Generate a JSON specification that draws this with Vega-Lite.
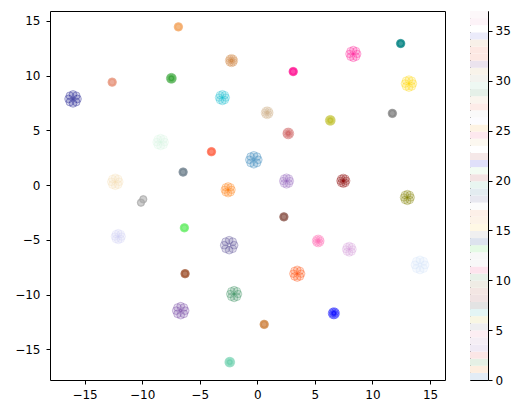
{
"$schema": "https://vega.github.io/schema/vega-lite/v6.json",
"padding": {"left": 14, "top": 10, "right": 5, "bottom": 5},
"spacing": 23,
"config": {
  "font": "DejaVu Sans",
  "view": {"stroke": "black", "strokeWidth": 1},
  "axis": {"domain": false, "grid": false, "labelFont": "DejaVu Sans", "labelFontSize": 12, "labelColor": "black", "tickColor": "black", "tickSize": 4, "labelPadding": 5, "title": null}
},
"resolve": {"scale": {"color": "independent"}},
"hconcat": [
{
  "width": 395, "height": 369,
  "data": {"values": [
{"x":-15.609,"y":7.87,"k":1,"t":"c"},{"x":-15.723,"y":8.161,"k":1,"t":"c"},{"x":-16.0,"y":8.282,"k":1,"t":"c"},{"x":-16.277,"y":8.161,"k":1,"t":"c"},{"x":-16.391,"y":7.87,"k":1,"t":"c"},{"x":-16.277,"y":7.579,"k":1,"t":"c"},{"x":-16.0,"y":7.458,"k":1,"t":"c"},{"x":-15.723,"y":7.579,"k":1,"t":"c"},
{"x":-12.53,"y":9.4,"k":2,"t":"a"},{"x":-12.551,"y":9.452,"k":2,"t":"a"},{"x":-12.6,"y":9.473,"k":2,"t":"a"},{"x":-12.649,"y":9.452,"k":2,"t":"a"},{"x":-12.67,"y":9.4,"k":2,"t":"a"},{"x":-12.649,"y":9.348,"k":2,"t":"a"},{"x":-12.6,"y":9.327,"k":2,"t":"a"},{"x":-12.551,"y":9.348,"k":2,"t":"a"},
{"x":-6.78,"y":14.45,"k":3,"t":"a"},{"x":-6.801,"y":14.502,"k":3,"t":"a"},{"x":-6.85,"y":14.523,"k":3,"t":"a"},{"x":-6.899,"y":14.502,"k":3,"t":"a"},{"x":-6.92,"y":14.45,"k":3,"t":"a"},{"x":-6.899,"y":14.398,"k":3,"t":"a"},{"x":-6.85,"y":14.377,"k":3,"t":"a"},{"x":-6.801,"y":14.398,"k":3,"t":"a"},
{"x":-7.33,"y":9.75,"k":4,"t":"a"},{"x":-7.368,"y":9.847,"k":4,"t":"a"},{"x":-7.46,"y":9.887,"k":4,"t":"a"},{"x":-7.552,"y":9.847,"k":4,"t":"a"},{"x":-7.59,"y":9.75,"k":4,"t":"a"},{"x":-7.552,"y":9.653,"k":4,"t":"a"},{"x":-7.46,"y":9.613,"k":4,"t":"a"},{"x":-7.368,"y":9.653,"k":4,"t":"a"},
{"x":-2.023,"y":11.37,"k":5,"t":"b"},{"x":-2.086,"y":11.532,"k":5,"t":"b"},{"x":-2.24,"y":11.599,"k":5,"t":"b"},{"x":-2.394,"y":11.532,"k":5,"t":"b"},{"x":-2.457,"y":11.37,"k":5,"t":"b"},{"x":-2.394,"y":11.208,"k":5,"t":"b"},{"x":-2.24,"y":11.141,"k":5,"t":"b"},{"x":-2.086,"y":11.208,"k":5,"t":"b"},
{"x":3.19,"y":10.37,"k":6,"t":"a"},{"x":3.169,"y":10.422,"k":6,"t":"a"},{"x":3.12,"y":10.443,"k":6,"t":"a"},{"x":3.071,"y":10.422,"k":6,"t":"a"},{"x":3.05,"y":10.37,"k":6,"t":"a"},{"x":3.071,"y":10.318,"k":6,"t":"a"},{"x":3.12,"y":10.297,"k":6,"t":"a"},{"x":3.169,"y":10.318,"k":6,"t":"a"},
{"x":8.688,"y":11.98,"k":7,"t":"b"},{"x":8.586,"y":12.239,"k":7,"t":"b"},{"x":8.34,"y":12.346,"k":7,"t":"b"},{"x":8.094,"y":12.239,"k":7,"t":"b"},{"x":7.992,"y":11.98,"k":7,"t":"b"},{"x":8.094,"y":11.721,"k":7,"t":"b"},{"x":8.34,"y":11.614,"k":7,"t":"b"},{"x":8.586,"y":11.721,"k":7,"t":"b"},
{"x":12.52,"y":12.93,"k":8,"t":"a"},{"x":12.499,"y":12.982,"k":8,"t":"a"},{"x":12.45,"y":13.003,"k":8,"t":"a"},{"x":12.401,"y":12.982,"k":8,"t":"a"},{"x":12.38,"y":12.93,"k":8,"t":"a"},{"x":12.401,"y":12.878,"k":8,"t":"a"},{"x":12.45,"y":12.857,"k":8,"t":"a"},{"x":12.499,"y":12.878,"k":8,"t":"a"},
{"x":13.518,"y":9.27,"k":9,"t":"c"},{"x":13.416,"y":9.529,"k":9,"t":"c"},{"x":13.17,"y":9.636,"k":9,"t":"c"},{"x":12.924,"y":9.529,"k":9,"t":"c"},{"x":12.822,"y":9.27,"k":9,"t":"c"},{"x":12.924,"y":9.011,"k":9,"t":"c"},{"x":13.17,"y":8.904,"k":9,"t":"c"},{"x":13.416,"y":9.011,"k":9,"t":"c"},
{"x":11.8,"y":6.55,"k":10,"t":"a"},{"x":11.779,"y":6.602,"k":10,"t":"a"},{"x":11.73,"y":6.623,"k":10,"t":"a"},{"x":11.681,"y":6.602,"k":10,"t":"a"},{"x":11.66,"y":6.55,"k":10,"t":"a"},{"x":11.681,"y":6.498,"k":10,"t":"a"},{"x":11.73,"y":6.477,"k":10,"t":"a"},{"x":11.779,"y":6.498,"k":10,"t":"a"},
{"x":-2.726,"y":7.99,"k":11,"t":"b"},{"x":-2.815,"y":8.216,"k":11,"t":"b"},{"x":-3.03,"y":8.31,"k":11,"t":"b"},{"x":-3.245,"y":8.216,"k":11,"t":"b"},{"x":-3.334,"y":7.99,"k":11,"t":"b"},{"x":-3.245,"y":7.764,"k":11,"t":"b"},{"x":-3.03,"y":7.67,"k":11,"t":"b"},{"x":-2.815,"y":7.764,"k":11,"t":"b"},
{"x":1.077,"y":6.61,"k":12,"t":"a"},{"x":1.014,"y":6.772,"k":12,"t":"a"},{"x":0.86,"y":6.839,"k":12,"t":"a"},{"x":0.706,"y":6.772,"k":12,"t":"a"},{"x":0.643,"y":6.61,"k":12,"t":"a"},{"x":0.706,"y":6.448,"k":12,"t":"a"},{"x":0.86,"y":6.381,"k":12,"t":"a"},{"x":1.014,"y":6.448,"k":12,"t":"a"},
{"x":6.47,"y":5.91,"k":13,"t":"a"},{"x":6.432,"y":6.007,"k":13,"t":"a"},{"x":6.34,"y":6.047,"k":13,"t":"a"},{"x":6.248,"y":6.007,"k":13,"t":"a"},{"x":6.21,"y":5.91,"k":13,"t":"a"},{"x":6.248,"y":5.813,"k":13,"t":"a"},{"x":6.34,"y":5.773,"k":13,"t":"a"},{"x":6.432,"y":5.813,"k":13,"t":"a"},
{"x":2.864,"y":4.72,"k":14,"t":"a"},{"x":2.813,"y":4.849,"k":14,"t":"a"},{"x":2.69,"y":4.903,"k":14,"t":"a"},{"x":2.567,"y":4.849,"k":14,"t":"a"},{"x":2.516,"y":4.72,"k":14,"t":"a"},{"x":2.567,"y":4.591,"k":14,"t":"a"},{"x":2.69,"y":4.537,"k":14,"t":"a"},{"x":2.813,"y":4.591,"k":14,"t":"a"},
{"x":-8.042,"y":3.93,"k":15,"t":"c"},{"x":-8.144,"y":4.189,"k":15,"t":"c"},{"x":-8.39,"y":4.296,"k":15,"t":"c"},{"x":-8.636,"y":4.189,"k":15,"t":"c"},{"x":-8.738,"y":3.93,"k":15,"t":"c"},{"x":-8.636,"y":3.671,"k":15,"t":"c"},{"x":-8.39,"y":3.564,"k":15,"t":"c"},{"x":-8.144,"y":3.671,"k":15,"t":"c"},
{"x":-3.91,"y":3.05,"k":16,"t":"a"},{"x":-3.931,"y":3.102,"k":16,"t":"a"},{"x":-3.98,"y":3.123,"k":16,"t":"a"},{"x":-4.029,"y":3.102,"k":16,"t":"a"},{"x":-4.05,"y":3.05,"k":16,"t":"a"},{"x":-4.029,"y":2.998,"k":16,"t":"a"},{"x":-3.98,"y":2.977,"k":16,"t":"a"},{"x":-3.931,"y":2.998,"k":16,"t":"a"},
{"x":0.091,"y":2.31,"k":17,"t":"c"},{"x":-0.023,"y":2.601,"k":17,"t":"c"},{"x":-0.3,"y":2.722,"k":17,"t":"c"},{"x":-0.577,"y":2.601,"k":17,"t":"c"},{"x":-0.691,"y":2.31,"k":17,"t":"c"},{"x":-0.577,"y":2.019,"k":17,"t":"c"},{"x":-0.3,"y":1.898,"k":17,"t":"c"},{"x":-0.023,"y":2.019,"k":17,"t":"c"},
{"x":-6.37,"y":1.19,"k":18,"t":"a"},{"x":-6.391,"y":1.242,"k":18,"t":"a"},{"x":-6.44,"y":1.263,"k":18,"t":"a"},{"x":-6.489,"y":1.242,"k":18,"t":"a"},{"x":-6.51,"y":1.19,"k":18,"t":"a"},{"x":-6.489,"y":1.138,"k":18,"t":"a"},{"x":-6.44,"y":1.117,"k":18,"t":"a"},{"x":-6.391,"y":1.138,"k":18,"t":"a"},
{"x":-11.982,"y":0.3,"k":19,"t":"c"},{"x":-12.084,"y":0.559,"k":19,"t":"c"},{"x":-12.33,"y":0.666,"k":19,"t":"c"},{"x":-12.576,"y":0.559,"k":19,"t":"c"},{"x":-12.678,"y":0.3,"k":19,"t":"c"},{"x":-12.576,"y":0.041,"k":19,"t":"c"},{"x":-12.33,"y":-0.066,"k":19,"t":"c"},{"x":-12.084,"y":0.041,"k":19,"t":"c"},
{"x":-2.226,"y":-0.43,"k":20,"t":"b"},{"x":-2.315,"y":-0.204,"k":20,"t":"b"},{"x":-2.53,"y":-0.11,"k":20,"t":"b"},{"x":-2.745,"y":-0.204,"k":20,"t":"b"},{"x":-2.834,"y":-0.43,"k":20,"t":"b"},{"x":-2.745,"y":-0.656,"k":20,"t":"b"},{"x":-2.53,"y":-0.75,"k":20,"t":"b"},{"x":-2.315,"y":-0.656,"k":20,"t":"b"},
{"x":2.844,"y":0.37,"k":21,"t":"b"},{"x":2.755,"y":0.596,"k":21,"t":"b"},{"x":2.54,"y":0.69,"k":21,"t":"b"},{"x":2.325,"y":0.596,"k":21,"t":"b"},{"x":2.236,"y":0.37,"k":21,"t":"b"},{"x":2.325,"y":0.144,"k":21,"t":"b"},{"x":2.54,"y":0.05,"k":21,"t":"b"},{"x":2.755,"y":0.144,"k":21,"t":"b"},
{"x":7.731,"y":0.39,"k":22,"t":"b"},{"x":7.654,"y":0.584,"k":22,"t":"b"},{"x":7.47,"y":0.664,"k":22,"t":"b"},{"x":7.286,"y":0.584,"k":22,"t":"b"},{"x":7.209,"y":0.39,"k":22,"t":"b"},{"x":7.286,"y":0.196,"k":22,"t":"b"},{"x":7.47,"y":0.116,"k":22,"t":"b"},{"x":7.654,"y":0.196,"k":22,"t":"b"},
{"x":13.334,"y":-1.13,"k":23,"t":"b"},{"x":13.245,"y":-0.904,"k":23,"t":"b"},{"x":13.03,"y":-0.81,"k":23,"t":"b"},{"x":12.815,"y":-0.904,"k":23,"t":"b"},{"x":12.726,"y":-1.13,"k":23,"t":"b"},{"x":12.815,"y":-1.356,"k":23,"t":"b"},{"x":13.03,"y":-1.45,"k":23,"t":"b"},{"x":13.245,"y":-1.356,"k":23,"t":"b"},
{"x":-10.12,"y":-1.6,"k":24,"t":"a"},{"x":-10.08,"y":-1.62,"k":24,"t":"a"},{"x":-10.1,"y":-1.57,"k":24,"t":"a"},{"x":-10.1,"y":-1.63,"k":24,"t":"a"},{"x":-9.92,"y":-1.3,"k":24,"t":"a"},{"x":-9.88,"y":-1.28,"k":24,"t":"a"},{"x":-9.9,"y":-1.33,"k":24,"t":"a"},{"x":-9.9,"y":-1.27,"k":24,"t":"a"},
{"x":2.38,"y":-2.9,"k":25,"t":"a"},{"x":2.359,"y":-2.848,"k":25,"t":"a"},{"x":2.31,"y":-2.827,"k":25,"t":"a"},{"x":2.261,"y":-2.848,"k":25,"t":"a"},{"x":2.24,"y":-2.9,"k":25,"t":"a"},{"x":2.261,"y":-2.952,"k":25,"t":"a"},{"x":2.31,"y":-2.973,"k":25,"t":"a"},{"x":2.359,"y":-2.952,"k":25,"t":"a"},
{"x":-6.26,"y":-3.9,"k":26,"t":"a"},{"x":-6.281,"y":-3.848,"k":26,"t":"a"},{"x":-6.33,"y":-3.827,"k":26,"t":"a"},{"x":-6.379,"y":-3.848,"k":26,"t":"a"},{"x":-6.4,"y":-3.9,"k":26,"t":"a"},{"x":-6.379,"y":-3.952,"k":26,"t":"a"},{"x":-6.33,"y":-3.973,"k":26,"t":"a"},{"x":-6.281,"y":-3.952,"k":26,"t":"a"},
{"x":-11.766,"y":-4.7,"k":27,"t":"b"},{"x":-11.855,"y":-4.474,"k":27,"t":"b"},{"x":-12.07,"y":-4.38,"k":27,"t":"b"},{"x":-12.285,"y":-4.474,"k":27,"t":"b"},{"x":-12.374,"y":-4.7,"k":27,"t":"b"},{"x":-12.285,"y":-4.926,"k":27,"t":"b"},{"x":-12.07,"y":-5.02,"k":27,"t":"b"},{"x":-11.855,"y":-4.926,"k":27,"t":"b"},
{"x":-2.005,"y":-5.49,"k":28,"t":"c"},{"x":-2.133,"y":-5.166,"k":28,"t":"c"},{"x":-2.44,"y":-5.033,"k":28,"t":"c"},{"x":-2.747,"y":-5.166,"k":28,"t":"c"},{"x":-2.875,"y":-5.49,"k":28,"t":"c"},{"x":-2.747,"y":-5.814,"k":28,"t":"c"},{"x":-2.44,"y":-5.947,"k":28,"t":"c"},{"x":-2.133,"y":-5.814,"k":28,"t":"c"},
{"x":5.507,"y":-5.1,"k":29,"t":"a"},{"x":5.444,"y":-4.938,"k":29,"t":"a"},{"x":5.29,"y":-4.871,"k":29,"t":"a"},{"x":5.136,"y":-4.938,"k":29,"t":"a"},{"x":5.073,"y":-5.1,"k":29,"t":"a"},{"x":5.136,"y":-5.262,"k":29,"t":"a"},{"x":5.29,"y":-5.329,"k":29,"t":"a"},{"x":5.444,"y":-5.262,"k":29,"t":"a"},
{"x":8.294,"y":-5.86,"k":30,"t":"a"},{"x":8.205,"y":-5.634,"k":30,"t":"a"},{"x":7.99,"y":-5.54,"k":30,"t":"a"},{"x":7.775,"y":-5.634,"k":30,"t":"a"},{"x":7.686,"y":-5.86,"k":30,"t":"a"},{"x":7.775,"y":-6.086,"k":30,"t":"a"},{"x":7.99,"y":-6.18,"k":30,"t":"a"},{"x":8.205,"y":-6.086,"k":30,"t":"a"},
{"x":14.565,"y":-7.29,"k":31,"t":"d"},{"x":14.437,"y":-6.966,"k":31,"t":"d"},{"x":14.13,"y":-6.833,"k":31,"t":"d"},{"x":13.823,"y":-6.966,"k":31,"t":"d"},{"x":13.695,"y":-7.29,"k":31,"t":"d"},{"x":13.823,"y":-7.614,"k":31,"t":"d"},{"x":14.13,"y":-7.747,"k":31,"t":"d"},{"x":14.437,"y":-7.614,"k":31,"t":"d"},
{"x":-6.2,"y":-8.09,"k":32,"t":"a"},{"x":-6.221,"y":-8.038,"k":32,"t":"a"},{"x":-6.27,"y":-8.017,"k":32,"t":"a"},{"x":-6.319,"y":-8.038,"k":32,"t":"a"},{"x":-6.34,"y":-8.09,"k":32,"t":"a"},{"x":-6.319,"y":-8.142,"k":32,"t":"a"},{"x":-6.27,"y":-8.163,"k":32,"t":"a"},{"x":-6.221,"y":-8.142,"k":32,"t":"a"},
{"x":3.818,"y":-8.09,"k":33,"t":"b"},{"x":3.716,"y":-7.831,"k":33,"t":"b"},{"x":3.47,"y":-7.724,"k":33,"t":"b"},{"x":3.224,"y":-7.831,"k":33,"t":"b"},{"x":3.122,"y":-8.09,"k":33,"t":"b"},{"x":3.224,"y":-8.349,"k":33,"t":"b"},{"x":3.47,"y":-8.456,"k":33,"t":"b"},{"x":3.716,"y":-8.349,"k":33,"t":"b"},
{"x":-1.662,"y":-9.95,"k":34,"t":"b"},{"x":-1.764,"y":-9.691,"k":34,"t":"b"},{"x":-2.01,"y":-9.584,"k":34,"t":"b"},{"x":-2.256,"y":-9.691,"k":34,"t":"b"},{"x":-2.358,"y":-9.95,"k":34,"t":"b"},{"x":-2.256,"y":-10.209,"k":34,"t":"b"},{"x":-2.01,"y":-10.316,"k":34,"t":"b"},{"x":-1.764,"y":-10.209,"k":34,"t":"b"},
{"x":-6.259,"y":-11.47,"k":35,"t":"c"},{"x":-6.373,"y":-11.179,"k":35,"t":"c"},{"x":-6.65,"y":-11.058,"k":35,"t":"c"},{"x":-6.927,"y":-11.179,"k":35,"t":"c"},{"x":-7.041,"y":-11.47,"k":35,"t":"c"},{"x":-6.927,"y":-11.761,"k":35,"t":"c"},{"x":-6.65,"y":-11.882,"k":35,"t":"c"},{"x":-6.373,"y":-11.761,"k":35,"t":"c"},
{"x":6.824,"y":-11.71,"k":36,"t":"b"},{"x":6.773,"y":-11.581,"k":36,"t":"b"},{"x":6.65,"y":-11.527,"k":36,"t":"b"},{"x":6.527,"y":-11.581,"k":36,"t":"b"},{"x":6.476,"y":-11.71,"k":36,"t":"b"},{"x":6.527,"y":-11.839,"k":36,"t":"b"},{"x":6.65,"y":-11.893,"k":36,"t":"b"},{"x":6.773,"y":-11.839,"k":36,"t":"b"},
{"x":0.67,"y":-12.72,"k":37,"t":"a"},{"x":0.649,"y":-12.668,"k":37,"t":"a"},{"x":0.6,"y":-12.647,"k":37,"t":"a"},{"x":0.551,"y":-12.668,"k":37,"t":"a"},{"x":0.53,"y":-12.72,"k":37,"t":"a"},{"x":0.551,"y":-12.772,"k":37,"t":"a"},{"x":0.6,"y":-12.793,"k":37,"t":"a"},{"x":0.649,"y":-12.772,"k":37,"t":"a"},
{"x":-2.26,"y":-16.17,"k":38,"t":"a"},{"x":-2.298,"y":-16.073,"k":38,"t":"a"},{"x":-2.39,"y":-16.033,"k":38,"t":"a"},{"x":-2.482,"y":-16.073,"k":38,"t":"a"},{"x":-2.52,"y":-16.17,"k":38,"t":"a"},{"x":-2.482,"y":-16.267,"k":38,"t":"a"},{"x":-2.39,"y":-16.307,"k":38,"t":"a"},{"x":-2.298,"y":-16.267,"k":38,"t":"a"}
  ]},
  "mark": {"type": "point", "shape": "circle", "filled": true, "fillOpacity": 0.17, "strokeOpacity": 0.38, "strokeWidth": 0.8},
  "encoding": {
    "x": {"field": "x", "type": "quantitative", "scale": {"domain": [-18, 16.3], "nice": false, "zero": false}, "axis": {"values": [-15, -10, -5, 0, 5, 10, 15]}},
    "y": {"field": "y", "type": "quantitative", "scale": {"domain": [-17.8, 15.9], "nice": false, "zero": false}, "axis": {"values": [-15, -10, -5, 0, 5, 10, 15], "labelPadding": 6}},
    "color": {"field": "k", "type": "nominal", "legend": null, "scale": {
      "domain": [1,2,3,4,5,6,7,8,9,10,11,12,13,14,15,16,17,18,19,20,21,22,23,24,25,26,27,28,29,30,31,32,33,34,35,36,37,38],
      "range": ["#000080","#e9967a","#f4a460","#2ca02c","#cd853f","#ff1493","#ff1493","#008080","#ffd700","#808080","#17becf","#d2b48c","#bcbd22","#cd5c5c","#d8f5e0","#ff6347","#1f77b4","#708090","#f5deb3","#ff7f0e","#9467bd","#8b0000","#808000","#a9a9a9","#8c564b","#66ee66","#d0d0f5","#483d8b","#ff69b4","#d8a0dc","#d0e0f8","#a0522d","#ff4500","#2e8b57","#663399","#0000ff","#cd853f","#66cdaa"]}},
    "stroke": {"field": "k", "type": "nominal", "legend": null, "scale": {
      "domain": [1,2,3,4,5,6,7,8,9,10,11,12,13,14,15,16,17,18,19,20,21,22,23,24,25,26,27,28,29,30,31,32,33,34,35,36,37,38],
      "range": ["#000080","#e9967a","#f4a460","#2ca02c","#cd853f","#ff1493","#ff1493","#008080","#ffd700","#808080","#17becf","#d2b48c","#bcbd22","#cd5c5c","#d8f5e0","#ff6347","#1f77b4","#708090","#f5deb3","#ff7f0e","#9467bd","#8b0000","#808000","#a9a9a9","#8c564b","#66ee66","#d0d0f5","#483d8b","#ff69b4","#d8a0dc","#d0e0f8","#a0522d","#ff4500","#2e8b57","#663399","#0000ff","#cd853f","#66cdaa"]}},
    "size": {"field": "t", "type": "nominal", "legend": null, "scale": {"domain": ["a","b","c","d"], "range": [50, 64, 80, 100]}}
  }
},
{
  "width": 18, "height": 369,
  "data": {"values": [
{"b":0,"lo":0,"hi":0.7115},{"b":1,"lo":0.7115,"hi":1.4231},{"b":2,"lo":1.4231,"hi":2.1346},{"b":3,"lo":2.1346,"hi":2.8462},{"b":4,"lo":2.8462,"hi":3.5577},{"b":5,"lo":3.5577,"hi":4.2692},{"b":6,"lo":4.2692,"hi":4.9808},{"b":7,"lo":4.9808,"hi":5.6923},{"b":8,"lo":5.6923,"hi":6.4038},{"b":9,"lo":6.4038,"hi":7.1154},
{"b":10,"lo":7.1154,"hi":7.8269},{"b":11,"lo":7.8269,"hi":8.5385},{"b":12,"lo":8.5385,"hi":9.25},{"b":13,"lo":9.25,"hi":9.9615},{"b":14,"lo":9.9615,"hi":10.6731},{"b":15,"lo":10.6731,"hi":11.3846},{"b":16,"lo":11.3846,"hi":12.0962},{"b":17,"lo":12.0962,"hi":12.8077},{"b":18,"lo":12.8077,"hi":13.5192},{"b":19,"lo":13.5192,"hi":14.2308},
{"b":20,"lo":14.2308,"hi":14.9423},{"b":21,"lo":14.9423,"hi":15.6538},{"b":22,"lo":15.6538,"hi":16.3654},{"b":23,"lo":16.3654,"hi":17.0769},{"b":24,"lo":17.0769,"hi":17.7885},{"b":25,"lo":17.7885,"hi":18.5},{"b":26,"lo":18.5,"hi":19.2115},{"b":27,"lo":19.2115,"hi":19.9231},{"b":28,"lo":19.9231,"hi":20.6346},{"b":29,"lo":20.6346,"hi":21.3462},
{"b":30,"lo":21.3462,"hi":22.0577},{"b":31,"lo":22.0577,"hi":22.7692},{"b":32,"lo":22.7692,"hi":23.4808},{"b":33,"lo":23.4808,"hi":24.1923},{"b":34,"lo":24.1923,"hi":24.9038},{"b":35,"lo":24.9038,"hi":25.6154},{"b":36,"lo":25.6154,"hi":26.3269},{"b":37,"lo":26.3269,"hi":27.0385},{"b":38,"lo":27.0385,"hi":27.75},{"b":39,"lo":27.75,"hi":28.4615},
{"b":40,"lo":28.4615,"hi":29.1731},{"b":41,"lo":29.1731,"hi":29.8846},{"b":42,"lo":29.8846,"hi":30.5962},{"b":43,"lo":30.5962,"hi":31.3077},{"b":44,"lo":31.3077,"hi":32.0192},{"b":45,"lo":32.0192,"hi":32.7308},{"b":46,"lo":32.7308,"hi":33.4423},{"b":47,"lo":33.4423,"hi":34.1538},{"b":48,"lo":34.1538,"hi":34.8654},{"b":49,"lo":34.8654,"hi":35.5769},
{"b":50,"lo":35.5769,"hi":36.2885},{"b":51,"lo":36.2885,"hi":37}
  ]},
  "mark": {"type": "rect"},
  "encoding": {
    "y": {"field": "lo", "type": "quantitative", "scale": {"domain": [0, 37], "nice": false, "zero": false}, "axis": {"orient": "right", "values": [0, 5, 10, 15, 20, 25, 30, 35], "labelPadding": 3}},
    "y2": {"field": "hi"},
    "color": {"field": "b", "type": "ordinal", "legend": null, "scale": {
      "domain": [0,1,2,3,4,5,6,7,8,9,10,11,12,13,14,15,16,17,18,19,20,21,22,23,24,25,26,27,28,29,30,31,32,33,34,35,36,37,38,39,40,41,42,43,44,45,46,47,48,49,50,51],
      "range": ["#e3ecf5","#fdeee0","#e5f0e5","#fbe6e6","#f0eaf5","#f5eef5","#fdeef3","#eeeef0","#f8f6e3","#e3f5f5","#e3e3e3","#f0e3e3","#f3e6e3","#efece5","#e8f0e8","#fde3ed","#f8f8f8","#f8f8f8","#e5fae5","#dde3ee","#f0f0f0","#fff8e5","#fdf3e8","#fdf0e8","#fcfcfc","#e8e8f0","#e3ecf0","#e8f5f0","#f3e3e3","#f3fcf3","#e0e0fa","#f5e8e8","#ffffff","#fcf8f0","#fde8ee","#fdf3e3","#fcfcff","#fafafa","#fdece8","#faf5ee","#e5f0e8","#eef8f3","#f3f3ef","#f8f3ea","#ebe3ee","#fde8e3","#fde8e3","#f8f0e8","#ebebfa","#ffffff","#fdf3f8","#fdf8fa"]}}
  }
}
]
}
